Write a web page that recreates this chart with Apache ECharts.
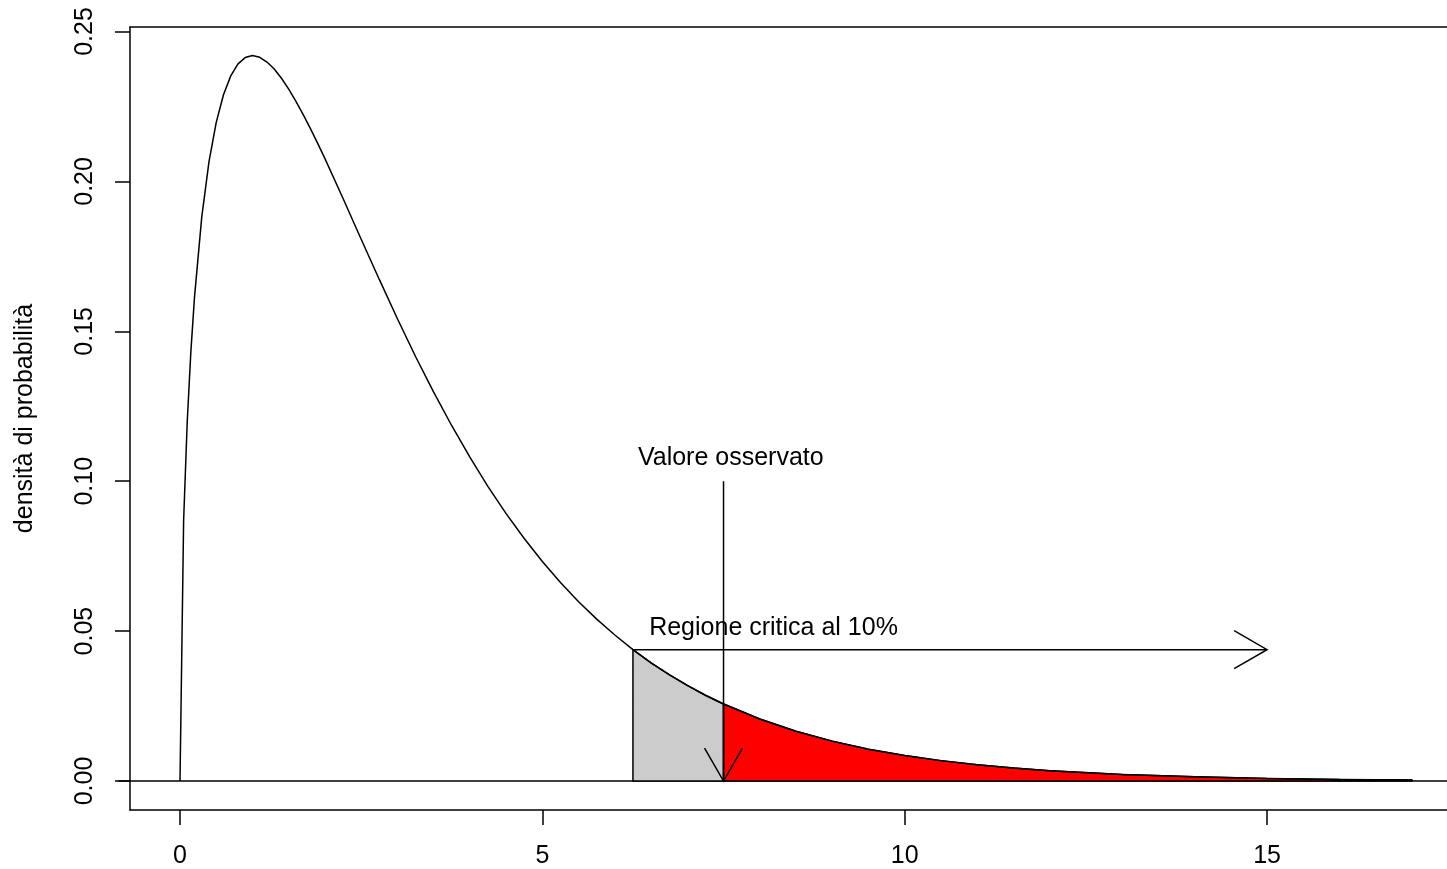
<!DOCTYPE html>
<html>
<head>
<meta charset="utf-8">
<title>densità chi-quadrato</title>
<script src="https://cdn.jsdelivr.net/npm/echarts@6/dist/echarts.min.js"></script>
<style>
  html, body { margin: 0; padding: 0; background: #fff; }
  #chart { width: 1447px; height: 869px; }
</style>
</head>
<body>
<div id="chart"></div>
<script>
// Density curve sampled points
const xs = [0, 0.05, 0.1, 0.15, 0.2, 0.3, 0.4, 0.5, 0.6, 0.7, 0.8, 0.9, 1,
  1.1, 1.2, 1.3, 1.4, 1.5, 1.6, 1.7, 1.8, 1.9, 2,
  2.25, 2.5, 2.75, 3, 3.25, 3.5, 3.75, 4, 4.25, 4.5, 4.75, 5,
  5.25, 5.5, 5.75, 6, 6.25, 6.5, 6.75, 7, 7.25, 7.5,
  8, 8.5, 9, 9.5, 10, 10.5, 11, 11.5, 12,
  13, 14, 15, 16, 17];
const ys = [0, 0.0870, 0.1200, 0.1433, 0.1614, 0.1881, 0.2066, 0.2197, 0.2289, 0.2352, 0.2392, 0.2413, 0.2420,
  0.2414, 0.2398, 0.2375, 0.2344, 0.2308, 0.2267, 0.2223, 0.2176, 0.2127, 0.2076,
  0.1943, 0.1807, 0.1673, 0.1542, 0.1416, 0.1297, 0.1185, 0.1080, 0.0982, 0.0892, 0.0809, 0.0732,
  0.0662, 0.0598, 0.0540, 0.0487, 0.0438, 0.0394, 0.0355, 0.0319, 0.0286, 0.0257,
  0.0207, 0.0166, 0.0133, 0.0106, 0.0085, 0.0068, 0.0054, 0.0043, 0.0034,
  0.0022, 0.0014, 0.00085, 0.00054, 0.00033];

// Critical value (10%) and observed value
const critico = 6.25;
const osservato = 7.5;
const xEnd = 17;
const arrowTop = 0.1;          // top of the "observed" arrow
const arrowLevel = 0.0438;     // height of the critical-region arrow
const arrowRight = 15;

// Tick values
const xTicks = [0, 5, 10, 15];
const yTicks = [0, 0.05, 0.10, 0.15, 0.20, 0.25];

// Annotation labels: [x, y, text]
const notes = [
  [7.6, 0.1077, 'Valore osservato'],
  [8.19, 0.0510, 'Regione critica al 10%']
];

const FONT = '"Liberation Sans", Arial, Helvetica, sans-serif';
const BLACK = '#000';
const LW = 1.5;

// Plot range (the frame continues past the right edge of the page)
const X_MIN = -0.69, X_MAX = 17.483;
const Y_MIN = -0.00967, Y_MAX = 0.2515;

function regionSeries(lo, hi, fill) {
  return {
    type: 'custom',
    silent: true,
    z: 2,
    data: [[lo, 0]],
    renderItem: function (params, api) {
      const pts = [api.coord([lo, 0])];
      xs.forEach(function (x, i) {
        if (x >= lo && x <= hi) pts.push(api.coord([x, ys[i]]));
      });
      pts.push(api.coord([hi, 0]));
      return {
        type: 'polygon',
        shape: { points: pts },
        style: { fill: fill, stroke: BLACK, lineWidth: LW }
      };
    }
  };
}

function arrow(api, from, to) {
  const a = api.coord(from), b = api.coord(to);
  const ang = Math.atan2(b[1] - a[1], b[0] - a[0]);
  const L = 38, th = Math.PI / 6;
  const h1 = [b[0] - L * Math.cos(ang - th), b[1] - L * Math.sin(ang - th)];
  const h2 = [b[0] - L * Math.cos(ang + th), b[1] - L * Math.sin(ang + th)];
  return [
    { type: 'line', shape: { x1: a[0], y1: a[1], x2: b[0], y2: b[1] },
      style: { stroke: BLACK, lineWidth: LW } },
    { type: 'polyline', shape: { points: [h1, b, h2] },
      style: { stroke: BLACK, fill: null, lineWidth: LW } }
  ];
}

const chart = echarts.init(document.getElementById('chart'), null, { renderer: 'canvas' });

chart.setOption({
  animation: false,
  backgroundColor: '#fff',
  grid: { left: 130, top: 27, bottom: 59, right: 0, show: false },
  xAxis: [
    {
      type: 'value', position: 'bottom',
      min: X_MIN, max: X_MAX,
      axisLine: { show: true, onZero: false, lineStyle: { color: BLACK, width: LW } },
      splitLine: { show: false },
      axisTick: { show: true, length: 15, customValues: xTicks, lineStyle: { color: BLACK, width: LW } },
      axisLabel: {
        customValues: xTicks, margin: 34,
        color: BLACK, fontSize: 25, fontFamily: FONT,
        formatter: function (v) { return String(v); }
      }
    },
    {
      // top edge of the frame
      type: 'value', position: 'top',
      min: X_MIN, max: X_MAX,
      axisLine: { show: true, onZero: false, lineStyle: { color: BLACK, width: LW } },
      splitLine: { show: false },
      axisTick: { show: false },
      axisLabel: { show: false }
    }
  ],
  yAxis: {
    type: 'value', position: 'left',
    min: Y_MIN, max: Y_MAX,
    name: 'densità di probabilità',
    nameLocation: 'middle',
    nameRotate: 90,
    nameGap: 92,
    nameTextStyle: { color: BLACK, fontSize: 25, fontFamily: FONT },
    axisLine: { show: true, onZero: false, lineStyle: { color: BLACK, width: LW } },
    splitLine: { show: false },
    axisTick: { show: true, length: 15, customValues: yTicks, lineStyle: { color: BLACK, width: LW } },
    axisLabel: {
      customValues: yTicks, rotate: 90, margin: 32,
      color: BLACK, fontSize: 25, fontFamily: FONT,
      formatter: function (v) { return v.toFixed(2); }
    }
  },
  series: [
    // horizontal reference line at zero
    {
      type: 'custom', silent: true, z: 1,
      data: [[0, 0]],
      renderItem: function (params, api) {
        const a = api.coord([-0.85, 0]), b = api.coord([20, 0]);
        return { type: 'line', shape: { x1: a[0], y1: a[1], x2: b[0], y2: b[1] },
                 style: { stroke: BLACK, lineWidth: LW } };
      }
    },
    regionSeries(critico, osservato, '#cccccc'),
    regionSeries(osservato, xEnd, '#ff0000'),
    // density curve
    {
      type: 'line', z: 3, silent: true,
      data: xs.map(function (x, i) { return [x, ys[i]]; }),
      showSymbol: false, smooth: false,
      lineStyle: { color: BLACK, width: LW }
    },
    // arrows and labels
    {
      type: 'custom', silent: true, z: 4,
      data: [[osservato, 0]],
      renderItem: function (params, api) {
        let els = [];
        els = els.concat(arrow(api, [osservato, arrowTop], [osservato, 0]));
        els = els.concat(arrow(api, [critico, arrowLevel], [arrowRight, arrowLevel]));
        notes.forEach(function (n) {
          const p = api.coord([n[0], n[1]]);
          els.push({
            type: 'text', x: p[0], y: p[1],
            style: { text: n[2], fill: BLACK, fontSize: 25, fontFamily: FONT,
                     align: 'center', verticalAlign: 'middle' }
          });
        });
        return { type: 'group', children: els };
      }
    }
  ]
});
</script>
</body>
</html>
